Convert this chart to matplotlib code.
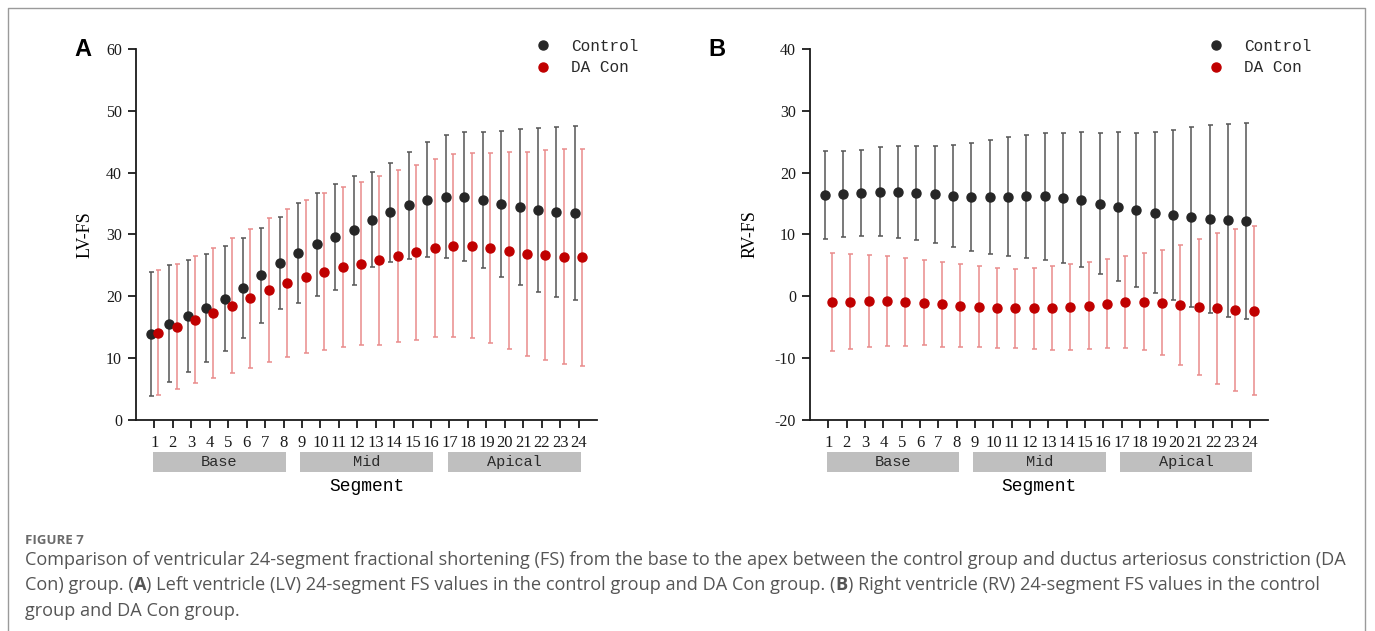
import numpy as np
import matplotlib
matplotlib.use('Agg')
import matplotlib.pyplot as plt
from matplotlib.patches import Rectangle
from matplotlib.lines import Line2D
import matplotlib.transforms as mtransforms

# segments and regional groups
segments = np.arange(1, 25)
groups = ['Base', 'Mid', 'Apical']
group_ranges = [(1, 8), (9, 16), (17, 24)]

# panel A: LV-FS, mean and SD
lv_ctrl_mean = [13.9, 15.6, 16.8, 18.1, 19.6, 21.4, 23.4, 25.4, 27.0, 28.4, 29.6, 30.7,
                32.4, 33.6, 34.7, 35.6, 36.1, 36.1, 35.6, 35.0, 34.4, 34.0, 33.7, 33.5]
lv_ctrl_sd = [10.0, 9.4, 9.0, 8.8, 8.5, 8.1, 7.7, 7.45, 8.15, 8.35, 8.5, 8.8,
              7.7, 8.0, 8.6, 9.3, 9.95, 10.45, 11.05, 11.8, 12.6, 13.25, 13.75, 14.05]
lv_da_mean = [14.1, 15.1, 16.2, 17.3, 18.5, 19.7, 21.0, 22.2, 23.2, 24.0, 24.7, 25.3,
              25.8, 26.5, 27.1, 27.8, 28.2, 28.2, 27.8, 27.4, 26.9, 26.7, 26.4, 26.3]
lv_da_sd = [10.1, 10.1, 10.25, 10.45, 10.9, 11.25, 11.65, 12.0, 12.3, 12.65, 12.95, 13.2,
            13.6, 13.85, 14.2, 14.45, 14.8, 15.0, 15.4, 15.9, 16.5, 17.0, 17.35, 17.5]

# panel B: RV-FS, mean and SD
rv_ctrl_mean = [16.4, 16.5, 16.7, 16.9, 16.9, 16.7, 16.5, 16.3, 16.1, 16.1, 16.1, 16.2,
                16.2, 15.9, 15.6, 15.0, 14.5, 13.9, 13.5, 13.1, 12.75, 12.5, 12.3, 12.2]
rv_ctrl_sd = [7.15, 6.95, 7.0, 7.2, 7.4, 7.6, 7.85, 8.25, 8.7, 9.2, 9.6, 9.95,
              10.25, 10.5, 10.9, 11.4, 12.0, 12.45, 13.0, 13.75, 14.55, 15.15, 15.6, 15.85]
rv_da_mean = [-0.9, -0.86, -0.8, -0.8, -0.86, -1.0, -1.3, -1.5, -1.7, -1.9, -1.95, -1.95,
              -1.9, -1.7, -1.5, -1.2, -0.9, -0.86, -1.0, -1.35, -1.7, -1.95, -2.2, -2.3]
rv_da_sd = [7.9, 7.65, 7.45, 7.25, 7.1, 6.9, 6.85, 6.75, 6.55, 6.45, 6.4, 6.55,
            6.8, 6.95, 7.0, 7.2, 7.45, 7.9, 8.55, 9.7, 11.0, 12.25, 13.1, 13.6]

caption_head = 'FIGURE 7'
# each caption line as (text, bold) pieces
caption_lines = [
    [('Comparison of ventricular 24-segment fractional shortening (FS) from the base to the apex between the control group and ductus arteriosus constriction (DA', False)],
    [('Con) group. (', False), ('A', True), (') Left ventricle (LV) 24-segment FS values in the control group and DA Con group. (', False),
     ('B', True), (') Right ventricle (RV) 24-segment FS values in the control', False)],
    [('group and DA Con group.', False)],
]

ctrl_color = '#262626'
ctrl_ecolor = '#555555'
da_color = '#c00000'
da_ecolor = '#e98b8b'
serif = 'Liberation Serif'
mono = 'Liberation Mono'

fig = plt.figure(figsize=(13.75, 6.31), dpi=100)

panels = [
    dict(rect=[0.0989, 0.3344, 0.3353, 0.588], ylim=(0, 60), yticks=np.arange(0, 61, 10),
         ylabel='LV-FS', ylab_x=-0.11, letter='A', letter_x=83,
         ctrl=(lv_ctrl_mean, lv_ctrl_sd), da=(lv_da_mean, lv_da_sd), leg_x=535),
    dict(rect=[0.5891, 0.3344, 0.3333, 0.588], ylim=(-20, 40), yticks=np.arange(-20, 41, 10),
         ylabel='RV-FS', ylab_x=-0.13, letter='B', letter_x=717,
         ctrl=(rv_ctrl_mean, rv_ctrl_sd), da=(rv_da_mean, rv_da_sd), leg_x=1208),
]

for p in panels:
    ax = fig.add_axes(p['rect'])
    h1 = ax.errorbar(segments - 0.2, p['ctrl'][0], yerr=p['ctrl'][1], fmt='o',
                     color=ctrl_color, ecolor=ctrl_ecolor, elinewidth=1.1,
                     capsize=1.8, capthick=1.1, markersize=6.5, label='Control')
    h2 = ax.errorbar(segments + 0.2, p['da'][0], yerr=p['da'][1], fmt='o',
                     color=da_color, ecolor=da_ecolor, elinewidth=1.1,
                     capsize=1.8, capthick=1.1, markersize=6.5, label='DA Con')
    ax.set_xlim(0, 25)
    ax.set_ylim(*p['ylim'])
    ax.set_xticks(segments)
    ax.set_yticks(p['yticks'])
    ax.set_xticklabels([str(s) for s in segments], fontfamily=serif, fontsize=12)
    ax.set_yticklabels([str(v) for v in p['yticks']], fontfamily=serif, fontsize=11.5)
    for s in ['top', 'right']:
        ax.spines[s].set_visible(False)
    for s in ['left', 'bottom']:
        ax.spines[s].set_linewidth(1.3)
        ax.spines[s].set_color('#1a1a1a')
    ax.tick_params(direction='out', length=6, width=1.3, colors='#1a1a1a', pad=4)
    ax.tick_params(axis='x', pad=5)

    ax.set_ylabel(p['ylabel'], fontfamily=serif, fontsize=13)
    ax.yaxis.set_label_coords(p['ylab_x'], 0.5)
    ax.yaxis.label.set_va('center')
    ax.set_xlabel('Segment', fontfamily=mono, fontsize=13)
    ax.xaxis.set_label_coords(0.5, -0.18)
    ax.xaxis.label.set_va('center')

    trans = mtransforms.blended_transform_factory(ax.transData, ax.transAxes)
    for name, (a, b) in zip(groups, group_ranges):
        x0, x1 = a - 0.09, b + 0.12
        ax.add_patch(Rectangle((x0, -0.14), x1 - x0, 0.053, transform=trans,
                               facecolor='#bfbfbf', edgecolor='none', clip_on=False))
        ax.text((x0 + x1) / 2, -0.1135, name, transform=trans, ha='center', va='center',
                fontfamily=mono, fontsize=11, color='#2a2a2a')

    leg = ax.legend(handles=[h1[0], h2[0]], labels=['Control', 'DA Con'],
                    loc='upper left', bbox_to_anchor=(p['leg_x'] / 1375, 1 - 39 / 631),
                    bbox_transform=fig.transFigure, frameon=False, borderpad=0,
                    borderaxespad=0, handlelength=1.0, handletextpad=1.25,
                    labelspacing=0.4, prop={'family': mono, 'size': 11.5})
    for t in leg.get_texts():
        t.set_color('#2a2a2a')

    fig.text(p['letter_x'] / 1375, 1 - 50 / 631, p['letter'], ha='center', va='center',
             fontfamily='Liberation Sans', fontweight='bold', fontsize=17)

# caption
fig.text(25 / 1375, 1 - 541 / 631, caption_head, ha='left', va='center',
         fontfamily='Open Sans', fontweight='bold', fontsize=9.5, color='#6b6b6b')
renderer = fig.canvas.get_renderer()
for i, pieces in enumerate(caption_lines):
    x = 25
    for txt, bold in pieces:
        t = fig.text(x / 1375, 1 - (560 + 25.5 * i) / 631, txt, ha='left', va='center',
                     fontfamily='Open Sans', fontsize=13.1, color='#555555',
                     fontweight='bold' if bold else 'normal')
        x = t.get_window_extent(renderer).x1

# outer frame
fx0, fx1, fy = 8 / 1375, 1365 / 1375, 1 - 8 / 631
fig.add_artist(Line2D([fx0, fx0, fx1, fx1], [0, fy, fy, 0], transform=fig.transFigure,
                      color='#9a9a9a', linewidth=1))

fig.savefig('out.png', dpi=100)
